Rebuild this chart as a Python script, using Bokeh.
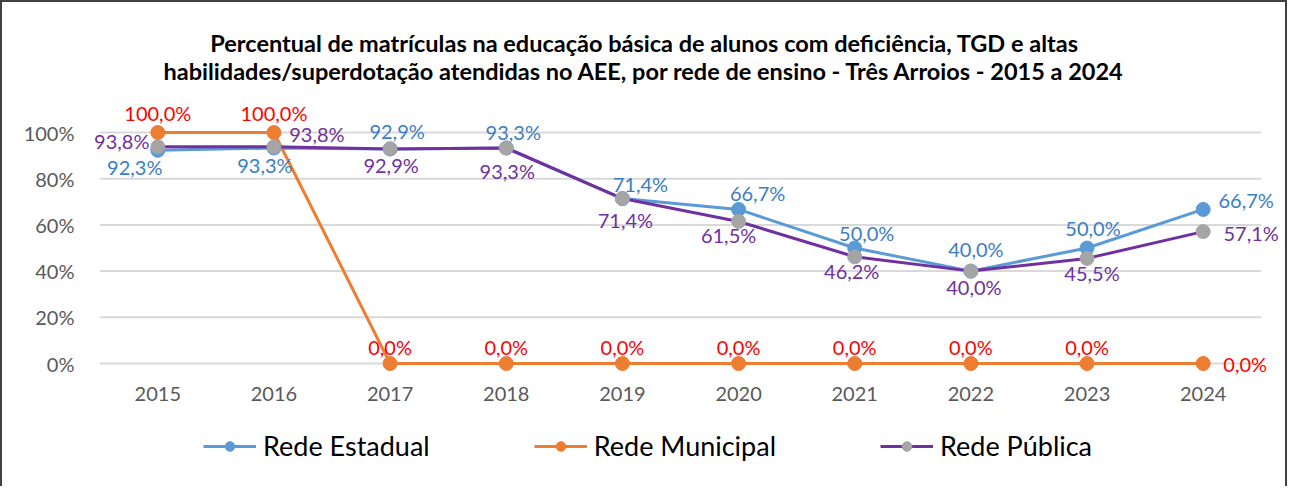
from bokeh.plotting import figure
from bokeh.models import (ColumnDataSource, FactorRange, Range1d, FixedTicker, CategoricalAxis,
                          PrintfTickFormatter, LabelSet, Legend, LegendItem, Label)
from bokeh.core.properties import value
from bokeh.embed import file_html
from bokeh.resources import INLINE

years = ["2015", "2016", "2017", "2018", "2019", "2020", "2021", "2022", "2023", "2024"]
estadual = [92.3, 93.3, 92.9, 93.3, 71.4, 66.7, 50.0, 40.0, 50.0, 66.7]
municipal = [100.0, 100.0, 0.0, 0.0, 0.0, 0.0, 0.0, 0.0, 0.0, 0.0]
publica = [93.8, 93.8, 92.9, 93.3, 71.4, 61.5, 46.2, 40.0, 45.5, 57.1]
y_ticks = [0, 20, 40, 60, 80, 100]

title_l1 = "Percentual de matrículas na educação básica de alunos com deficiência, TGD e altas"
title_l2 = "habilidades/superdotação atendidas no AEE, por rede de ensino - Três Arroios - 2015 a 2024"

# label offsets (screen px, y up) -- styling only
est_dx = [-23, -9, 7, 7, 18, 19, 12, 5, 6, 43]
est_dy = [-17, -17, 18, 16, 15, 16, 15, 22, 20, 9]
mun_dx = [0, 0, 0, 0, 0, 0, 0, 0, 0, 42]
mun_dy = [20, 20, 17, 17, 17, 17, 17, 17, 17, 0]
pub_dx = [-36, 43, 1, 1, 3, -10, -3, 3, 5, 48]
pub_dy = [6, 13, -16, -23, -21, -14, -14, -16, -15, -1]

FONT = "Lato"

def fmt(v):
    return f"{v:.1f}".replace(".", ",") + "%"

p = figure(width=1287, height=486, title=None, x_axis_location=None,
           x_range=FactorRange(factors=years, range_padding=0.2, range_padding_units="absolute"),
           y_range=Range1d(-54.11, 143.3), output_backend="svg", toolbar_location=None,
           min_border_left=74, min_border_right=5, min_border_top=30, min_border_bottom=0)
p.styles = {"border-top": "2px solid #404040", "border-left": "2px solid #404040",
            "border-right": "2px solid #404040"}
p.outline_line_color = None
p.background_fill_color = "white"

# title lines (screen units inside the frame)
for txt, ys in ((title_l1, 446), (title_l2, 418)):
    p.add_layout(Label(x=568, y=ys, x_units="screen", y_units="screen", text=txt,
                       text_align="center", text_baseline="middle", text_font=FONT,
                       text_font_size="23.5px", text_font_style="bold", text_color="black"))

xaxis = CategoricalAxis(fixed_location=-16.3)
p.add_layout(xaxis, "above")

p.xgrid.grid_line_color = None
p.ygrid.grid_line_color = None
# horizontal gridlines spanning the category bands
nyrs = len(years)
p.segment(x0=[0] * len(y_ticks), x1=[nyrs] * len(y_ticks), y0=y_ticks, y1=y_ticks,
          line_color="#d9d9d9", line_width=2)

p.yaxis.ticker = FixedTicker(ticks=y_ticks)
p.yaxis.formatter = PrintfTickFormatter(format="%d%%")
for ax in (xaxis, p.yaxis[0]):
    ax.axis_line_color = None
    ax.major_tick_line_color = None
    ax.minor_tick_line_color = None
    ax.major_tick_out = 0
    ax.major_tick_in = 0
    ax.major_label_text_font = FONT
    ax.major_label_text_font_size = "20px"
    ax.major_label_text_color = "#595959"
p.yaxis.major_label_standoff = 2
xaxis.major_label_standoff = 0

series = [
    ("Rede Estadual", estadual, "#5B9BD5", "#5B9BD5", "#3B7DC4", est_dx, est_dy),
    ("Rede Municipal", municipal, "#ED7D31", "#ED7D31", "#FF0000", mun_dx, mun_dy),
    ("Rede Pública", publica, "#7030A0", "#A5A5A5", "#7030A0", pub_dx, pub_dy),
]

items = []
for i, (name, vals, lc, mc, tc, dx, dy) in enumerate(series):
    src = ColumnDataSource(dict(x=years, y=vals, lab=[fmt(v) for v in vals], dx=dx, dy=dy))
    lr = p.line("x", "y", source=src, line_color=lc, line_width=3)
    sr = p.scatter("x", "y", source=src, size=14, fill_color=mc, line_color=mc)
    labels = LabelSet(x="x", y="y", text="lab", source=src, x_offset="dx", y_offset="dy",
                      text_align="center", text_baseline="middle", text_color=tc,
                      text_font=value(FONT), text_font_size="20px")
    p.add_layout(labels)
    items.append(LegendItem(label=name, renderers=[lr, sr]))

leg = Legend(items=items, location=(127, 26), orientation="horizontal",
             padding=0, margin=0, spacing=104, border_line_alpha=0, background_fill_alpha=0,
             glyph_width=53, glyph_height=24, label_standoff=7,
             label_text_font=FONT, label_text_font_size="27px", label_text_color="black")
p.add_layout(leg, "center")

open("out.html", "w").write(file_html(p, INLINE))
